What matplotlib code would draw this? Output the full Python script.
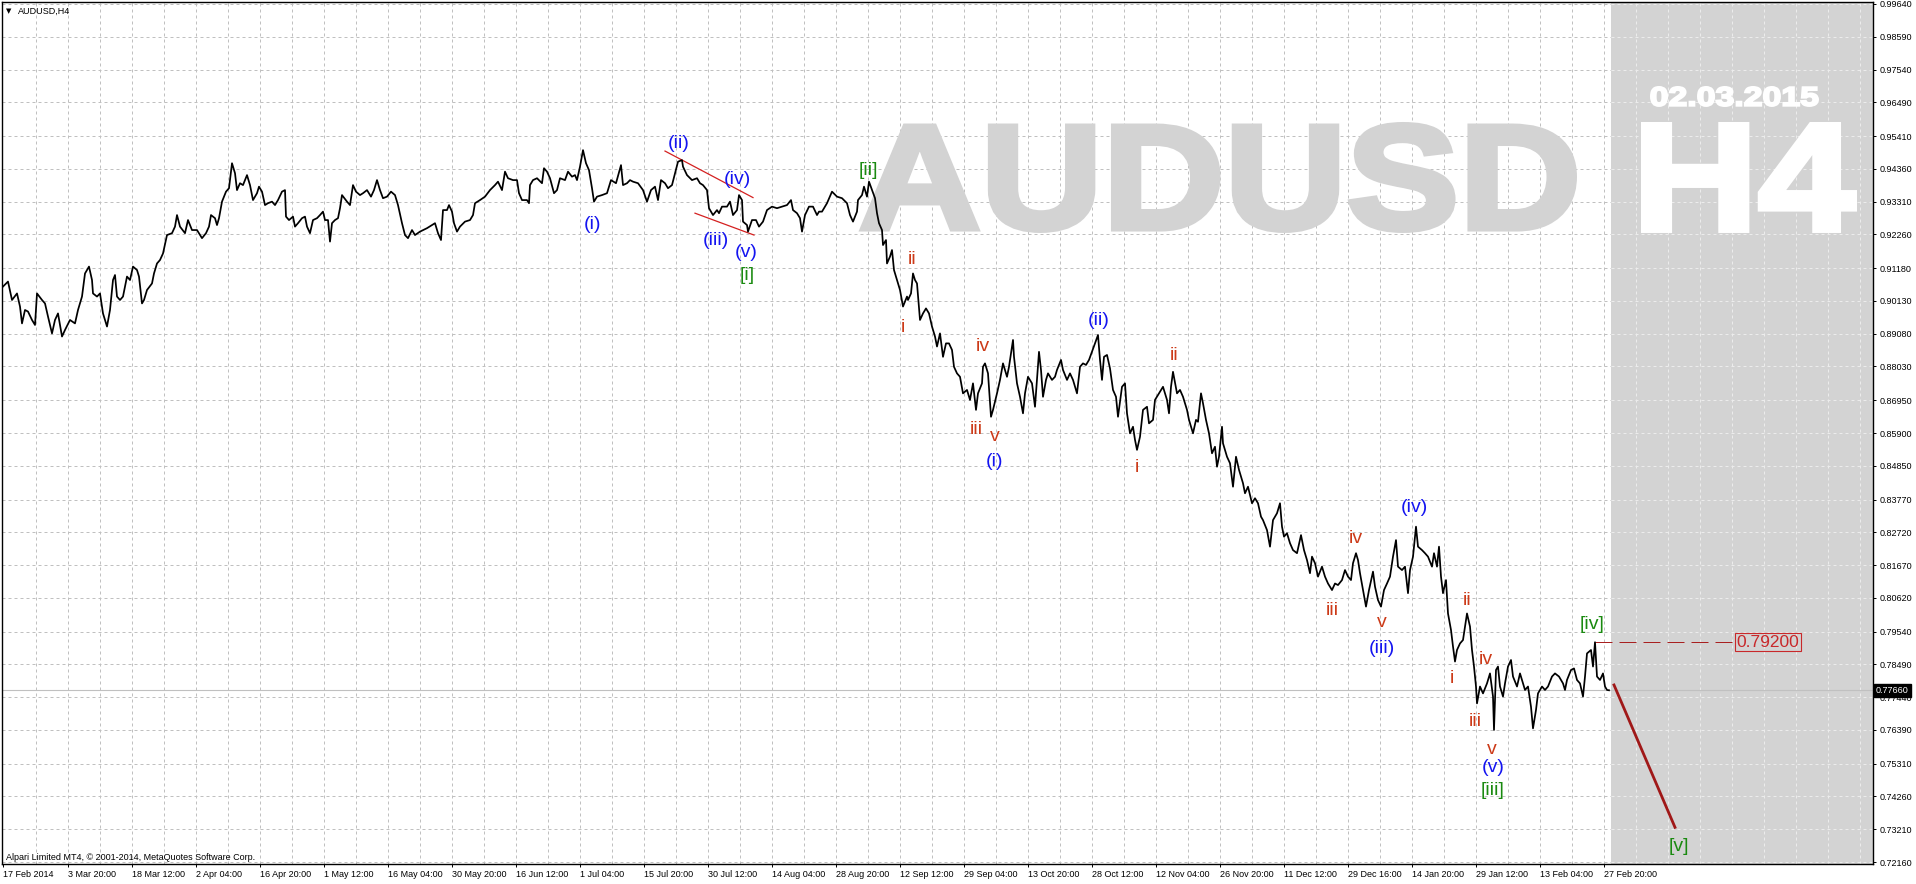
import matplotlib.pyplot as plt
from matplotlib.font_manager import FontProperties
from matplotlib.patches import PathPatch
from matplotlib.textpath import TextPath
from matplotlib.transforms import Affine2D

# AUDUSD H4 closes: bar number -> price
bars_feb_jun = [0, 5, 9, 14, 17, 19, 22, 25, 29, 32,
                34, 39, 42, 45, 49, 52, 55, 59, 62, 67,
                72, 75, 79, 82, 86, 89, 90, 94, 97, 100,
                104, 107, 110, 112, 114, 117, 120, 124, 127, 130,
                134, 136, 139, 141, 144, 149, 151, 154, 157, 160,
                164, 169, 172, 174, 177, 182, 185, 189, 194, 199,
                203, 206, 208, 212, 214, 216, 219, 223, 226, 229,
                232, 234, 237, 240, 244, 247, 250, 254, 256, 259,
                262, 265, 269, 272, 275, 279, 282, 283, 286, 290,
                292, 295, 299, 302, 304, 307, 310, 314, 317, 320,
                322, 325, 327, 329, 332, 335, 337, 339, 344, 347,
                350, 353, 357, 360, 364, 368, 371, 374, 377, 380,
                384, 388, 392, 395, 399, 402, 405, 409, 412]
close_feb_jun = [.9059, .9075, .9016, .9037, .8995, .8941, .8984, .8979, .8952, .8936,
                 .9037, .9016, .9005, .8963, .8909, .8952, .8973, .8899, .8920, .8952,
                 .8941, .8984, .9027, .9101, .9123, .9080, .9037, .9027, .9037, .8973,
                 .8931, .8984, .9080, .9096, .9027, .9016, .9027, .9091, .9080, .9123,
                 .9112, .9091, .9005, .9016, .9048, .9069, .9101, .9133, .9144, .9165,
                 .9224, .9230, .9251, .9288, .9251, .9230, .9272, .9240, .9240, .9214,
                 .9230, .9251, .9288, .9278, .9256, .9278, .9331, .9363, .9374, .9454,
                 .9422, .9368, .9390, .9384, .9416, .9384, .9336, .9358, .9379, .9363,
                 .9320, .9326, .9331, .9320, .9336, .9363, .9368, .9283, .9272, .9283,
                 .9251, .9262, .9278, .9283, .9251, .9230, .9272, .9278, .9288, .9299,
                 .9272, .9272, .9203, .9262, .9272, .9278, .9310, .9352, .9331, .9320,
                 .9384, .9363, .9352, .9358, .9368, .9347, .9368, .9400, .9368, .9342,
                 .9347, .9363, .9352, .9320, .9262, .9224, .9214, .9240, .9224]

bars_jun_sep = [417, 424, 429, 432, 435, 438, 440, 444, 446, 449,
                451, 454, 457, 462, 467, 470, 472, 477, 482, 487,
                492, 495, 499, 502, 505, 510, 514, 516, 519, 524,
                526, 527, 530, 534, 539, 541, 544, 547, 551, 554,
                557, 562, 565, 569, 572, 574, 577, 580, 583, 586,
                589, 591, 594, 599, 604, 608, 613, 618, 620, 624,
                627, 630, 635, 640, 644, 648, 652, 655, 658, 662,
                665, 669, 672, 675, 679, 680, 684, 689, 694, 697,
                700, 704, 706, 710, 714, 716, 719, 724, 727, 730,
                734, 736, 739, 740, 744, 745, 749, 753, 756, 760,
                764, 769, 774, 779, 784, 788, 790, 794, 797, 799,
                802, 806, 810, 814, 816]
close_jun_sep = [.9235, .9246, .9256, .9262, .9230, .9208, .9304, .9304, .9320, .9299,
                 .9262, .9235, .9251, .9267, .9272, .9288, .9326, .9336, .9347, .9368,
                 .9384, .9395, .9368, .9427, .9406, .9400, .9400, .9358, .9336, .9336,
                 .9326, .9384, .9400, .9406, .9390, .9438, .9427, .9406, .9358, .9368,
                 .9406, .9400, .9427, .9411, .9416, .9400, .9443, .9496, .9454, .9432,
                 .9374, .9331, .9347, .9352, .9358, .9400, .9390, .9448, .9384, .9390,
                 .9400, .9395, .9390, .9368, .9331, .9368, .9379, .9336, .9400, .9390,
                 .9374, .9384, .9422, .9459, .9464, .9443, .9416, .9400, .9406, .9390,
                 .9384, .9368, .9310, .9288, .9304, .9294, .9315, .9315, .9331, .9288,
                 .9304, .9352, .9336, .9267, .9256, .9235, .9272, .9272, .9251, .9267,
                 .9304, .9315, .9310, .9315, .9320, .9336, .9304, .9294, .9278, .9235,
                 .9288, .9315, .9315, .9288, .9299]

bars_sep_dec = [819, 824, 829, 834, 839, 844, 847, 850, 854, 855,
                859, 861, 864, 866, 869, 872, 874, 876, 879, 880,
                883, 884, 887, 889, 891, 894, 897, 900, 904, 905,
                908, 910, 912, 914, 917, 920, 923, 926, 929, 932,
                934, 937, 940, 943, 946, 949, 951, 954, 957, 960,
                964, 967, 970, 973, 975, 979, 980, 982, 985, 988,
                990, 994, 997, 1000, 1004, 1006, 1010, 1011, 1014, 1017,
                1020, 1022, 1025, 1029, 1032, 1034, 1036, 1038, 1040, 1043,
                1045, 1049, 1052, 1054, 1058, 1060, 1064, 1067, 1070, 1074,
                1077, 1080, 1083, 1086, 1089, 1092, 1095, 1097, 1099, 1101,
                1104, 1107, 1110, 1113, 1115, 1119, 1122, 1124, 1127, 1130,
                1132, 1134, 1137, 1140, 1144, 1146, 1150, 1152, 1156, 1160,
                1164, 1166, 1168, 1170, 1174, 1177, 1180, 1184, 1186, 1190,
                1193, 1195, 1198, 1200, 1203, 1206, 1209, 1212, 1214, 1216]
close_sep_dec = [.9299, .9326, .9363, .9347, .9342, .9326, .9288, .9267, .9299, .9336,
                 .9352, .9379, .9347, .9395, .9368, .9342, .9294, .9262, .9240, .9192,
                 .9208, .9133, .9155, .9176, .9112, .9080, .9048, .8995, .9027, .9016,
                 .9037, .9101, .9080, .9069, .8952, .8973, .8989, .8973, .8931, .8899,
                 .8867, .8909, .8834, .8877, .8877, .8856, .8802, .8781, .8770, .8717,
                 .8728, .8696, .8749, .8664, .8717, .8749, .8802, .8813, .8781, .8642,
                 .8664, .8717, .8760, .8813, .8770, .8802, .8888, .8834, .8749, .8706,
                 .8653, .8717, .8770, .8749, .8674, .8760, .8850, .8792, .8706, .8760,
                 .8781, .8760, .8770, .8792, .8824, .8792, .8760, .8781, .8760, .8717,
                 .8802, .8813, .8808, .8824, .8850, .8877, .8904, .8824, .8760, .8834,
                 .8840, .8797, .8728, .8706, .8642, .8738, .8749, .8653, .8589, .8610,
                 .8568, .8536, .8578, .8664, .8674, .8621, .8632, .8696, .8717, .8738,
                 .8696, .8653, .8738, .8786, .8717, .8728, .8706, .8664, .8632, .8589,
                 .8632, .8626, .8717, .8685, .8632, .8589, .8525, .8546, .8482, .8514]

bars_dec_mar = [1219, 1220, 1224, 1227, 1230, 1233, 1236, 1240, 1242, 1245,
                1249, 1252, 1255, 1258, 1260, 1264, 1267, 1270, 1274, 1277,
                1279, 1281, 1284, 1287, 1290, 1294, 1298, 1301, 1304, 1307,
                1309, 1312, 1315, 1319, 1322, 1325, 1329, 1332, 1335, 1339,
                1342, 1345, 1348, 1350, 1353, 1355, 1357, 1360, 1363, 1366,
                1370, 1372, 1375, 1378, 1381, 1384, 1387, 1390, 1393, 1395,
                1399, 1402, 1405, 1407, 1410, 1413, 1415, 1419, 1422, 1425,
                1429, 1431, 1434, 1436, 1438, 1440, 1443, 1445, 1448, 1450,
                1452, 1454, 1457, 1460, 1462, 1464, 1467, 1469, 1471, 1473,
                1474, 1477, 1480, 1484, 1487, 1490, 1491, 1493, 1495, 1497,
                1500, 1502, 1505, 1508, 1510, 1514, 1517, 1520, 1522, 1525,
                1528, 1530, 1533, 1535, 1539, 1542, 1545, 1549, 1552, 1556,
                1560, 1562, 1564, 1568, 1571, 1574, 1577, 1580, 1582, 1584,
                1588, 1590, 1592, 1594, 1597, 1600, 1602, 1604, 1606]
close_dec_mar = [.8610, .8557, .8514, .8493, .8418, .8514, .8472, .8429, .8397, .8418,
                 .8365, .8381, .8365, .8322, .8311, .8279, .8226, .8311, .8333, .8365,
                 .8290, .8258, .8269, .8237, .8215, .8205, .8263, .8215, .8183, .8141,
                 .8194, .8173, .8130, .8162, .8130, .8108, .8087, .8108, .8103, .8119,
                 .8151, .8130, .8119, .8173, .8205, .8183, .8141, .8087, .8034, .8087,
                 .8146, .8098, .8055, .8034, .8087, .8108, .8130, .8194, .8247, .8162,
                 .8151, .8162, .8077, .8151, .8194, .8290, .8226, .8215, .8205, .8194,
                 .8162, .8205, .8162, .8226, .8130, .8077, .8119, .8012, .7959, .7906,
                 .7858, .7895, .7916, .7927, .7970, .8012, .7970, .7895, .7842, .7778,
                 .7724, .7778, .7756, .7788, .7820, .7746, .7639, .7831, .7842, .7778,
                 .7746, .7788, .7842, .7863, .7810, .7778, .7820, .7788, .7767, .7778,
                 .7713, .7644, .7703, .7756, .7778, .7767, .7778, .7810, .7820, .7810,
                 .7788, .7767, .7799, .7831, .7836, .7799, .7788, .7746, .7810, .7884,
                 .7895, .7842, .7920, .7810, .7799, .7820, .7778, .7767, .7766]

price_labels = ['0.99640', '0.98590', '0.97540', '0.96490', '0.95410', '0.94360', '0.93310',
                '0.92260', '0.91180', '0.90130', '0.89080', '0.88030', '0.86950', '0.85900',
                '0.84850', '0.83770', '0.82720', '0.81670', '0.80620', '0.79540', '0.78490',
                '0.77440', '0.76390', '0.75310', '0.74260', '0.73210', '0.72160']
date_labels = ['17 Feb 2014', '3 Mar 20:00', '18 Mar 12:00', '2 Apr 04:00', '16 Apr 20:00',
               '1 May 12:00', '16 May 04:00', '30 May 20:00', '16 Jun 12:00', '1 Jul 04:00',
               '15 Jul 20:00', '30 Jul 12:00', '14 Aug 04:00', '28 Aug 20:00', '12 Sep 12:00',
               '29 Sep 04:00', '13 Oct 20:00', '28 Oct 12:00', '12 Nov 04:00', '26 Nov 20:00',
               '11 Dec 12:00', '29 Dec 16:00', '14 Jan 20:00', '29 Jan 12:00', '13 Feb 04:00',
               '27 Feb 20:00']

# Elliott wave marks
wave_text = ['(i)', '(ii)', '(iii)', '(iv)', '(v)', '[i]', '[ii]',
             'i', 'ii', 'iii', 'iv', 'v', '(i)', '(ii)', 'i', 'ii',
             'iii', 'iv', 'v', '(iii)', '(iv)', 'i', 'ii', 'iii', 'iv', 'v',
             '(v)', '[iii]', '[iv]', '[v]']
wave_bar = [590, 676, 713, 734, 743, 744, 865,
            900, 909, 973, 980, 992, 992, 1096, 1134, 1171,
            1329, 1353, 1379, 1379, 1411, 1449, 1464, 1472, 1483, 1489,
            1490, 1490, 1589, 1676]
wave_price = [.9259, .9518, .9208, .9403, .9168, .9093, .9432,
              .8927, .9147, .8602, .8866, .8578, .8500, .8949, .8480, .8838,
              .8023, .8253, .7982, .7900, .8352, .7804, .8055, .7665, .7863, .7577,
              .7519, .7445, .7978, .7265]
wave_degree = ['b', 'b', 'b', 'b', 'b', 'g', 'g',
               'r', 'r', 'r', 'r', 'r', 'b', 'b', 'r', 'r',
               'r', 'r', 'r', 'b', 'b', 'r', 'r', 'r', 'r', 'r',
               'b', 'g', 'g', 'g']
degree_color = {'b': '#1414f0', 'r': '#cc3a18', 'g': '#1a8a10'}

# channel lines of the (ii)-(v) wedge and the projected [v] leg
upper_bar, upper_price = [662, 750], [0.9493, 0.9344]
lower_bar, lower_price = [692, 751], [0.9294, 0.9224]
proj_bar, proj_price = [1611, 1672], [0.7783, 0.7327]
level_price = 0.79200
last_price = 0.77660

plt.rcParams['font.family'] = ['Liberation Sans', 'DejaVu Sans']

fig = plt.figure(figsize=(19.16, 8.84), dpi=100)
ax = fig.add_axes([2 / 1916, 20 / 884, 1871 / 1916, 862 / 884])
ymin, ymax = 0.72096, 0.99704
xmax = 1870
ax.set_xlim(-1, xmax)
ax.set_ylim(ymin, ymax)

price_ticks = [float(s) for s in price_labels]
date_bars = [0] + [65 + 64 * k for k in range(len(date_labels) - 1)]
grid_bars = list(range(33, xmax + 1, 32))
shade = 1608
dash = (0, (3, 3))

ax.vlines(grid_bars, ymin, ymax, colors='#c0c0c0', lw=0.72, linestyles=dash, zorder=0.5)
ax.hlines(price_ticks, -1, xmax, colors='#c0c0c0', lw=0.72, linestyles=dash, zorder=0.5)
ax.axvspan(shade, xmax, color='#d3d3d3', lw=0, zorder=0.6)
ax.vlines([b for b in grid_bars if b > shade], ymin, ymax, colors='#ececec', lw=0.72,
          linestyles=dash, zorder=0.7)
ax.hlines(price_ticks, shade, xmax, colors='#ececec', lw=0.72, linestyles=dash, zorder=0.7)

bold = FontProperties(family='Liberation Sans', weight='bold')


def stamp(s, x0, x1, y0, y1, color, fat):
    # fit the glyph outline into the box, then fatten it with a stroke of the same colour
    px = 0.00032028  # price per pixel
    x0, x1 = x0 + fat / 2, x1 - fat / 2
    y0, y1 = y0 + fat / 2 * px, y1 - fat / 2 * px
    tp = TextPath((0, 0), s, size=100, prop=bold)
    e = tp.get_extents()
    tr = Affine2D().translate(-e.x0, -e.y0).scale((x1 - x0) / e.width, (y1 - y0) / e.height).translate(x0, y0)
    ax.add_patch(PathPatch(tr.transform_path(tp), fc=color, ec=color, lw=fat * 0.72,
                           joinstyle='miter', zorder=0.8))


stamp('AUDUSD', 857, 1574, 0.92306, 0.95861, '#d3d3d3', 6)
stamp('H4', 1638, 1854, 0.92306, 0.95861, 'white', 6)
stamp('02.03.2015', 1647, 1816, 0.96341, 0.97014, 'white', 2)

ax.axhline(last_price, color='#c0c0c0', lw=0.8, zorder=1)

bars = bars_feb_jun + bars_jun_sep + bars_sep_dec + bars_dec_mar
close = close_feb_jun + close_jun_sep + close_sep_dec + close_dec_mar
ax.plot(bars, close, color='black', lw=1.25, zorder=3)

ax.plot(upper_bar, upper_price, color='#d42020', lw=0.9, zorder=2.5)
ax.plot(lower_bar, lower_price, color='#d42020', lw=0.9, zorder=2.5)
ax.plot(proj_bar, proj_price, color='#a01818', lw=2.0, zorder=2.5)
ax.plot([1592, 1732], [level_price, level_price], color='#a82020', lw=0.72,
        ls=(0, (17, 7)), zorder=2.5)
ax.text(1765, level_price, '%.5f' % level_price, color='#c8282a', fontsize=12.5,
        ha='center', va='center', zorder=4,
        bbox=dict(boxstyle='square,pad=0.1', fc='none', ec='#c8282a', lw=0.8))

for s, b, p, d in zip(wave_text, wave_bar, wave_price, wave_degree):
    ax.text(b, p, s, color=degree_color[d], fontsize=14, ha='center', va='center', zorder=4)

ax.yaxis.tick_right()
ax.set_yticks(price_ticks)
ax.set_yticklabels(price_labels)
ax.tick_params(axis='y', direction='out', length=2.5, width=0.7, pad=2.5, labelsize=6.5)
ax.set_xticks(date_bars)
ax.set_xticklabels(date_labels, ha='left')
ax.tick_params(axis='x', direction='out', length=2.5, width=0.7, pad=2, labelsize=6.5)
for sp in ax.spines.values():
    sp.set_color('black')
    sp.set_linewidth(1.0)

ax.annotate('%.5f' % last_price, xy=(1, last_price), xycoords=('axes fraction', 'data'),
            xytext=(3, 0), textcoords='offset pixels', ha='left', va='center',
            fontsize=6.5, color='white', annotation_clip=False, zorder=5,
            bbox=dict(boxstyle='square,pad=0.2', fc='black', ec='black'))

ax.annotate('\u25bc', xy=(0, 1), xycoords='axes fraction', xytext=(7, -9),
            textcoords='offset pixels', ha='center', va='center', fontsize=5,
            family='DejaVu Sans')
ax.annotate('AUDUSD,H4', xy=(0, 1), xycoords='axes fraction', xytext=(16, -9),
            textcoords='offset pixels', ha='left', va='center', fontsize=6.5)
ax.annotate('Alpari Limited MT4, \u00a9 2001-2014, MetaQuotes Software Corp.', xy=(0, 0),
            xycoords='axes fraction', xytext=(4, 6), textcoords='offset pixels',
            ha='left', va='center', fontsize=6.5)

fig.savefig('out.png', dpi=100)
